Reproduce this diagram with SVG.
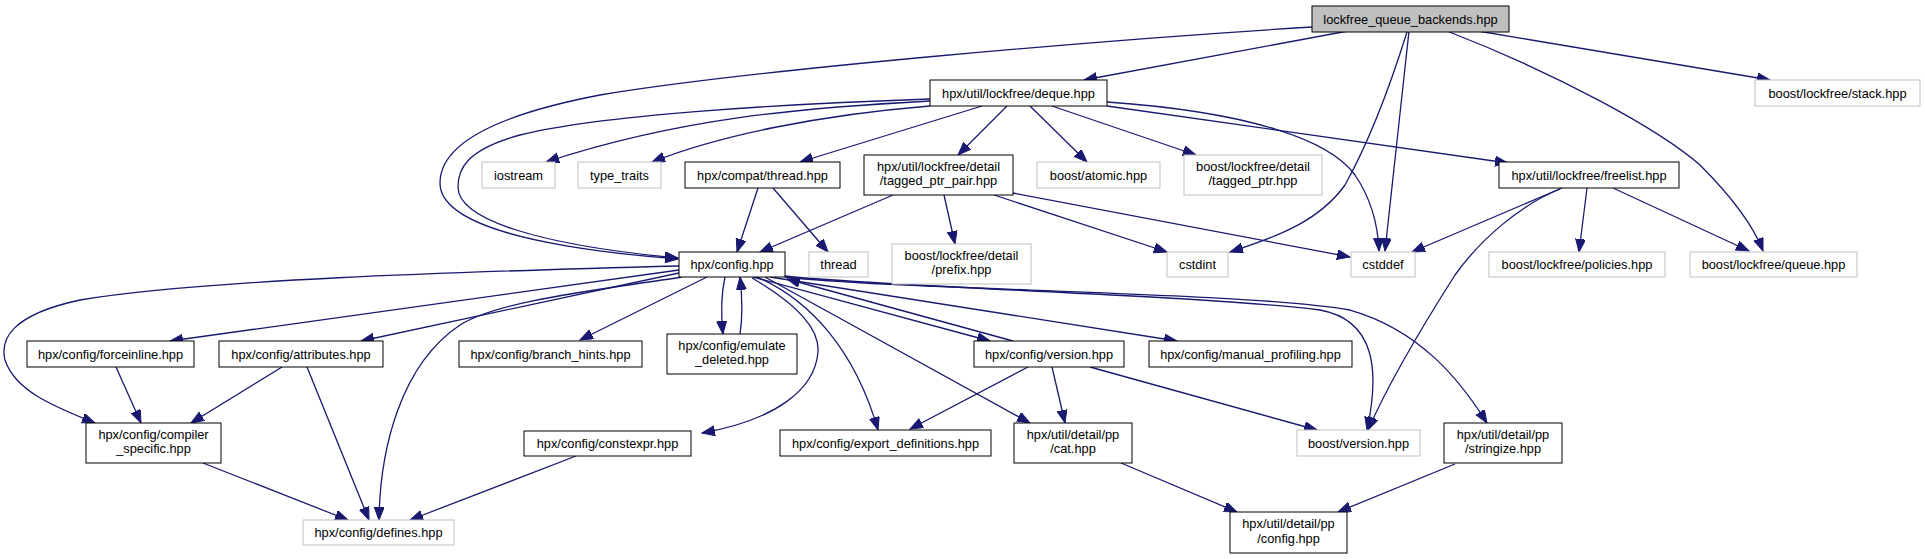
<svg xmlns="http://www.w3.org/2000/svg" width="1925" height="559" viewBox="0 0 1925 559">
<style>
.node rect{fill:#fff;stroke:#000;stroke-width:1}
.node.ext rect{stroke:#bfbfbf}
.node.root rect{fill:#bfbfbf}
.node text{font-family:"Liberation Sans",Arial,sans-serif;font-size:12.8px;fill:#000;text-anchor:middle}
#edges path{fill:none;stroke:#191970;stroke-width:1.3;marker-end:url(#arr)}
</style>
<defs>
<marker id="arr" markerUnits="userSpaceOnUse" markerWidth="14" markerHeight="11" refX="13" refY="5" orient="auto">
<path d="M0,0 L13,5 L0,10 z" fill="#191970" stroke="#191970" stroke-width="1"/>
</marker>
</defs>
<rect width="1925" height="559" fill="#fff"/>
<g id="edges">
<path d="M1312,27 C1100,40 750,70 600,95 C480,118 440,150 440,183 C440,225 540,248 678,259"/>
<path d="M930,99 C780,104 600,115 520,135 C465,150 458,170 458,187 C458,220 540,245 678,258"/>
<path d="M930,101 C800,108 680,118 546,162"/>
<path d="M930,106 C820,115 720,135 652,162"/>
<path d="M982,106 L800,162"/>
<path d="M1007,106 L958,155"/>
<path d="M1030,106 L1087,162"/>
<path d="M1052,106 L1196,155"/>
<path d="M1107,106 L1508,163"/>
<path d="M1107,102 C1250,112 1330,140 1355,175 C1372,200 1378,225 1379,251"/>
<path d="M1409,31 L1385,251"/>
<path d="M1407,32 C1392,80 1370,140 1345,185 C1320,220 1280,236 1230,252"/>
<path d="M1348,31 L1084,80"/>
<path d="M1478,31 L1770,80"/>
<path d="M1447,31 C1560,75 1660,130 1700,165 C1735,200 1755,230 1763,251"/>
<path d="M758,188 L737,252"/>
<path d="M773,188 L828,252"/>
<path d="M893,195 L760,252"/>
<path d="M944,195 L955,244"/>
<path d="M994,195 L1167,252"/>
<path d="M1013,193 L1350,257"/>
<path d="M1562,188 L1412,252"/>
<path d="M1587,188 L1579,252"/>
<path d="M1613,188 L1749,251"/>
<path d="M1560,189 C1520,205 1480,240 1455,275 C1420,330 1390,380 1368,430"/>
<path d="M679,266 C450,272 200,280 80,300 C10,315 0,340 5,360 C15,390 50,405 95,423"/>
<path d="M679,270 L170,341"/>
<path d="M679,273 L361,341"/>
<path d="M682,277 C600,290 500,300 460,325 C400,365 380,450 379,520"/>
<path d="M707,277 L580,340"/>
<path d="M725,277 C721,295 721,315 723,334"/>
<path d="M740,334 C743,315 742,295 740,277"/>
<path d="M752,278 C790,300 820,325 818,352 C815,390 775,420 702,433"/>
<path d="M757,277 C810,300 855,350 878,430"/>
<path d="M765,277 L1030,423"/>
<path d="M753,277 L990,341"/>
<path d="M1013,341 L787,279"/>
<path d="M770,277 L1177,341"/>
<path d="M785,276 C900,288 1200,295 1320,310 C1375,320 1380,370 1367,430"/>
<path d="M785,277 C900,290 1250,292 1350,310 C1420,330 1460,380 1487,423"/>
<path d="M1028,367 L910,429"/>
<path d="M1052,367 L1065,423"/>
<path d="M1090,367 L1317,430"/>
<path d="M1121,463 L1237,512"/>
<path d="M1455,464 L1338,512"/>
<path d="M116,367 L141,423"/>
<path d="M282,367 L191,423"/>
<path d="M307,367 L369,520"/>
<path d="M203,463 L348,520"/>
<path d="M576,456 L410,520"/>
</g>
<g id="n_lqb" class="node root"><rect x="1312" y="6" width="197" height="26"/><text x="1410.5" y="23.8">lockfree_queue_backends.hpp</text></g>
<g id="n_deque" class="node"><rect x="930" y="80" width="177" height="26"/><text x="1018.5" y="97.8">hpx/util/lockfree/deque.hpp</text></g>
<g id="n_stack" class="node ext"><rect x="1755" y="80" width="165" height="26"/><text x="1837.5" y="97.8">boost/lockfree/stack.hpp</text></g>
<g id="n_iostream" class="node ext"><rect x="482" y="162" width="73" height="26"/><text x="518.5" y="179.8">iostream</text></g>
<g id="n_type_traits" class="node ext"><rect x="578" y="162" width="83" height="26"/><text x="619.5" y="179.8">type_traits</text></g>
<g id="n_compat_thread" class="node"><rect x="685" y="162" width="155" height="26"/><text x="762.5" y="179.8">hpx/compat/thread.hpp</text></g>
<g id="n_tagged_ptr_pair" class="node"><rect x="864" y="155" width="149" height="40"/><text x="938.5" y="170.5">hpx/util/lockfree/detail</text><text x="938.5" y="185">/tagged_ptr_pair.hpp</text></g>
<g id="n_atomic" class="node ext"><rect x="1037" y="162" width="123" height="26"/><text x="1098.5" y="179.8">boost/atomic.hpp</text></g>
<g id="n_tagged_ptr" class="node ext"><rect x="1184" y="155" width="138" height="40"/><text x="1253" y="170.5">boost/lockfree/detail</text><text x="1253" y="185">/tagged_ptr.hpp</text></g>
<g id="n_freelist" class="node"><rect x="1499" y="162" width="180" height="26"/><text x="1589" y="179.8">hpx/util/lockfree/freelist.hpp</text></g>
<g id="n_config" class="node"><rect x="679" y="252" width="106" height="25"/><text x="732" y="269.3">hpx/config.hpp</text></g>
<g id="n_thread" class="node ext"><rect x="809" y="252" width="59" height="25"/><text x="838.5" y="269.3">thread</text></g>
<g id="n_prefix" class="node ext"><rect x="892" y="244" width="139" height="40"/><text x="961.5" y="259.5">boost/lockfree/detail</text><text x="961.5" y="274">/prefix.hpp</text></g>
<g id="n_cstdint" class="node ext"><rect x="1167" y="252" width="61" height="25"/><text x="1197.5" y="269.3">cstdint</text></g>
<g id="n_cstddef" class="node ext"><rect x="1351" y="252" width="64" height="25"/><text x="1383" y="269.3">cstddef</text></g>
<g id="n_policies" class="node ext"><rect x="1489" y="252" width="176" height="25"/><text x="1577" y="269.3">boost/lockfree/policies.hpp</text></g>
<g id="n_queue" class="node ext"><rect x="1690" y="252" width="167" height="25"/><text x="1773.5" y="269.3">boost/lockfree/queue.hpp</text></g>
<g id="n_forceinline" class="node"><rect x="27" y="341" width="167" height="26"/><text x="110.5" y="358.8">hpx/config/forceinline.hpp</text></g>
<g id="n_attributes" class="node"><rect x="219" y="341" width="164" height="26"/><text x="301" y="358.8">hpx/config/attributes.hpp</text></g>
<g id="n_branch_hints" class="node"><rect x="459" y="341" width="183" height="26"/><text x="550.5" y="358.8">hpx/config/branch_hints.hpp</text></g>
<g id="n_emulate_deleted" class="node"><rect x="667" y="334" width="130" height="40"/><text x="732" y="349.5">hpx/config/emulate</text><text x="732" y="364">_deleted.hpp</text></g>
<g id="n_version" class="node"><rect x="974" y="341" width="150" height="26"/><text x="1049" y="358.8">hpx/config/version.hpp</text></g>
<g id="n_manual_profiling" class="node"><rect x="1149" y="341" width="203" height="26"/><text x="1250.5" y="358.8">hpx/config/manual_profiling.hpp</text></g>
<g id="n_compiler_specific" class="node"><rect x="86" y="423" width="135" height="40"/><text x="153.5" y="438.5">hpx/config/compiler</text><text x="153.5" y="453">_specific.hpp</text></g>
<g id="n_constexpr" class="node"><rect x="524" y="431" width="167" height="25"/><text x="607.5" y="448.3">hpx/config/constexpr.hpp</text></g>
<g id="n_export_definitions" class="node"><rect x="780" y="430" width="211" height="26"/><text x="885.5" y="447.8">hpx/config/export_definitions.hpp</text></g>
<g id="n_cat" class="node"><rect x="1014" y="423" width="118" height="40"/><text x="1073" y="438.5">hpx/util/detail/pp</text><text x="1073" y="453">/cat.hpp</text></g>
<g id="n_boost_version" class="node ext"><rect x="1297" y="430" width="123" height="26"/><text x="1358.5" y="447.8">boost/version.hpp</text></g>
<g id="n_stringize" class="node"><rect x="1444" y="423" width="118" height="40"/><text x="1503" y="438.5">hpx/util/detail/pp</text><text x="1503" y="453">/stringize.hpp</text></g>
<g id="n_defines" class="node ext"><rect x="303" y="520" width="151" height="25"/><text x="378.5" y="537.3">hpx/config/defines.hpp</text></g>
<g id="n_pp_config" class="node"><rect x="1230" y="512" width="117" height="41"/><text x="1288.5" y="528">hpx/util/detail/pp</text><text x="1288.5" y="542.5">/config.hpp</text></g>
</svg>
